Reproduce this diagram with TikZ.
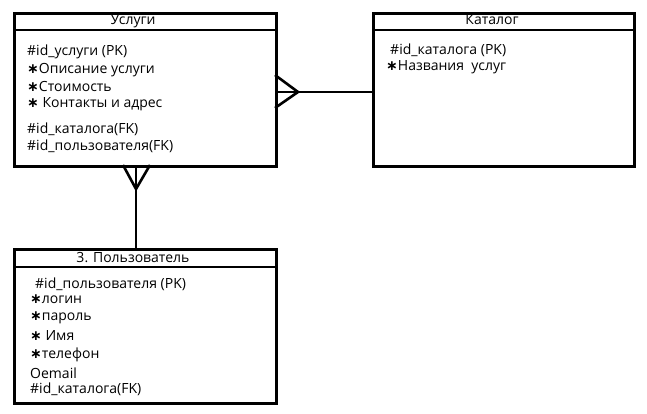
\documentclass[tikz,border=0pt]{standalone}
\usepackage{fontspec}
\setmainfont{Open Sans}
\newfontfamily\symfont{DejaVu Sans}
\newcommand{\myast}{{\symfont\bfseries ∗}}
\begin{document}
\begin{tikzpicture}[x=1pt,y=-1pt,
  ent/.style={draw,line width=2.6pt,rectangle,inner sep=0pt,anchor=north west},
  hdr/.style={font=\fontsize{14}{16}\selectfont,inner sep=0pt},
  attr/.style={font=\fontsize{14}{16}\selectfont,anchor=west,inner sep=0pt},
  conn/.style={line width=2.6pt}]
\useasboundingbox (0,0) rectangle (647,414);
% entities
\node[ent,minimum width=262pt,minimum height=153pt] (usl) at (13,12) {};
\node[ent,minimum width=261pt,minimum height=153pt] (kat) at (372,12) {};
\node[ent,minimum width=262pt,minimum height=154pt] (pol) at (13,248) {};
\draw[conn] (13,30) -- (275,30);
\draw[conn] (372,30) -- (633,30);
\draw[conn] (13,267) -- (275,267);
% headers
\node[hdr] (uslh) at (133,21) {Услуги};
\node[hdr] (kath) at (492,20) {Каталог};
\node[hdr] (polh) at (133,258) {3. Пользователь};
% attributes Услуги
\node[attr] (u1) at (27,52) {\#id\_услуги (PK)};
\node[attr] (u2) at (27,70) {\myast Описание услуги};
\node[attr] (u3) at (27,87) {\myast Стоимость};
\node[attr] (u4) at (27,104) {\myast\ Контакты и адрес};
\node[attr] (u5) at (27,129) {\#id\_каталога(FK)};
\node[attr] (u6) at (27,146) {\#id\_пользователя(FK)};
% attributes Каталог
\node[attr] (k1) at (390,50) {\#id\_каталога (PK)};
\node[attr] (k2) at (386,67) {\myast Названия\ \ услуг};
% attributes Пользователь
\node[attr] (p1) at (35,284) {\#id\_пользователя (PK)};
\node[attr] (p2) at (30,299) {\myast логин};
\node[attr] (p3) at (30,318) {\myast пароль};
\node[attr] (p4) at (30,336) {\myast\ Имя};
\node[attr] (p5) at (30,355) {\myast телефон};
\node[attr] (p6) at (30,373) {Оemail};
\node[attr] (p7) at (30,389) {\#id\_каталога(FK)};
% connectors
\coordinate (uslR) at (275,92);
\coordinate (katL) at (372,92);
\coordinate (footH) at (298,92);
\draw[conn] (uslR) -- (katL);
\draw[conn] (275,75) -- (footH) -- (275,108);
\coordinate (footV) at (136,189);
\draw[conn] (usl.south -| footV) -- (pol.north -| footV);
\draw[conn] (123,165) -- (footV) -- (150,165);
\end{tikzpicture}
\end{document}
